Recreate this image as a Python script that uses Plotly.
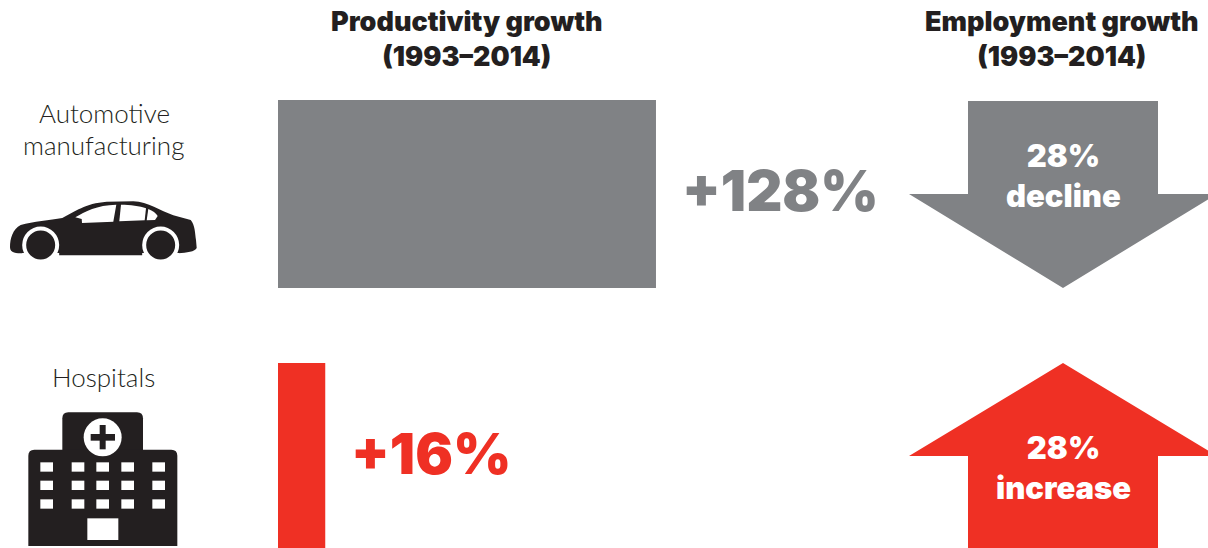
import plotly.graph_objects as go

# Chart data
industries = ["Automotive<br>manufacturing", "Hospitals"]
productivity_growth = [128, 16]
employment_growth = [-28, 28]
employment_words = ["decline", "increase"]
column_titles = ["Productivity growth<br>(1993–2014)", "Employment growth<br>(1993–2014)"]

GREY = "#808285"
RED = "#EF3024"
INK = "#231F20"
colors = [GREY, RED]

W, H = 1208, 548
HEAVY = "Inter"
LIGHT = "Lato"

fig = go.Figure()
fig.add_trace(go.Bar(
    y=[0, 1], x=productivity_growth, orientation="h", width=0.715,
    marker=dict(color=colors, line_width=0), hoverinfo="skip",
))
# Invisible trace keeps the pixel-scaled overlay axes alive for icons and arrows
fig.add_trace(go.Scatter(x=[0], y=[0], xaxis="x2", yaxis="y2", mode="none", hoverinfo="skip"))

shapes = []
annotations = []


def path_shape(d, color):
    shapes.append(dict(type="path", path=d, xref="x2", yref="y2", fillcolor=color,
                       line_width=0, layer="above"))


def poly(points):
    return "M " + " L ".join(f"{x:.1f},{y:.1f}" for x, y in points) + " Z"


def circle(cx, cy, r, color):
    shapes.append(dict(type="circle", xref="x2", yref="y2", x0=cx - r, x1=cx + r,
                       y0=cy - r, y1=cy + r, fillcolor=color, line_width=0, layer="above"))


def rect(x0, y0, x1, y1, color):
    shapes.append(dict(type="rect", xref="x2", yref="y2", x0=x0, x1=x1, y0=y0, y1=y1,
                       fillcolor=color, line_width=0, layer="above"))


# Employment arrows
path_shape(poly([(968, 101), (1158, 101), (1158, 194), (1217, 194), (1063, 288), (909, 194), (968, 194)]), GREY)
path_shape(poly([(1063, 363), (1217, 456), (1158, 456), (1158, 552), (968, 552), (968, 456), (909, 456)]), RED)


def car_pt(x, y):
    return x / 3, 90 + y / 3


def car_path(cmds):
    out = []
    for c in cmds:
        if isinstance(c, str):
            out.append(c)
        else:
            px, py = car_pt(*c)
            out.append(f"{px:.1f},{py:.1f}")
    return " ".join(out)


# Car body, wheels and windows
path_shape(car_path([
    "M", (30, 472), "C", (30, 445), (38, 418), (62, 405),
    "C", (100, 395), (150, 390), (187, 384),
    "C", (225, 365), (255, 340), (320, 335),
    "L", (400, 334), "C", (445, 336), (480, 362), (520, 376),
    "L", (572, 390), "C", (585, 405), (585, 430), (588, 450),
    "L", (590, 474), "C", (585, 485), (560, 488), (535, 490),
    "L", (430, 496), "L", (175, 496), "L", (68, 490),
    "C", (50, 490), (30, 490), (30, 472), "Z",
]), INK)
for cx in (122, 482):
    px, py = car_pt(cx, 465)
    circle(px, py, 18.5, "white")
    rect(px - 18.5, py + 8, px + 18.5, py + 20, "white")
    circle(px, py, 14.5, INK)
path_shape(car_path(["M", (226, 382), "C", (255, 365), (290, 345), (349, 344), "L", (340, 395), "L", (246, 399), "L", (245, 387), "Z"]), "white")
path_shape(car_path(["M", (363, 344), "C", (390, 344), (420, 348), (438, 355), "L", (434, 391), "L", (358, 394), "Z"]), "white")
path_shape(car_path(["M", (445, 357), "C", (458, 362), (468, 370), (473, 378), "L", (465, 390), "L", (440, 391), "Z"]), "white")


def hp(x, y):
    return x / 3, 360 + y / 3


def hosp_rect(x0, y0, x1, y1, color):
    a, b = hp(x0, y0)
    c, d = hp(x1, y1)
    rect(a, b, c, d, color)


def rounded_top(x0, y0, x1, y1, r):
    a, b = hp(x0, y0)
    c, d = hp(x1, y1)
    return (f"M {a},{d} L {a},{b + r} Q {a},{b} {a + r},{b} L {c - r},{b} "
            f"Q {c},{b} {c},{b + r} L {c},{d} Z")


# Hospital building, emblem and windows
path_shape(rounded_top(187, 157, 429, 280, 6), INK)
path_shape(rounded_top(85, 269, 532, 558, 6), INK)
ex, ey = hp(308, 232)
circle(ex, ey, 19, "white")
hosp_rect(299, 195, 317, 268, INK)
hosp_rect(272, 222, 345, 242, INK)
for x0 in (121, 215, 289, 364, 457):
    for y0 in (307, 362, 418):
        hosp_rect(x0, y0, x0 + 38, y0 + 28, "white")
hosp_rect(262, 475, 355, 540, "white")


def label(text, x, y, size, color, weight="normal", family=HEAVY):
    annotations.append(dict(text=text, x=x, y=y, xref="x2", yref="y2", showarrow=False,
                            xanchor="center", yanchor="middle",
                            font=dict(family=family, size=size, color=color, weight=weight)))


# Column headings
for title, cx in zip(column_titles, (467, 1062)):
    label(title, cx, 39, 27, INK, 900)

# Row labels
first, second = industries[0].split("<br>")
label(first, 104, 113, 26, INK, 300, LIGHT)
label(second, 103, 145, 26, INK, 300, LIGHT)
label(industries[1], 103, 377, 26, INK, 300, LIGHT)

# Value labels sit just past the end of each bar
for i, v in enumerate(productivity_growth):
    annotations.append(dict(text=f"+{v}%", x=v, y=i, xref="x", yref="y", showarrow=False,
                            xanchor="left", yanchor="middle", xshift=24, yshift=3,
                            font=dict(family=HEAVY, size=56, color=colors[i], weight=900)))

# Arrow captions
for v, word, cy in zip(employment_growth, employment_words, (175, 467)):
    label(f"{abs(v)}%<br>{word}", 1063, cy, 31, "white", 900)

fig.update_layout(
    width=W, height=H, margin=dict(l=0, r=0, t=0, b=0, pad=0),
    paper_bgcolor="white", plot_bgcolor="white", showlegend=False,
    xaxis=dict(range=[-278 / 2.953, (W - 278) / 2.953], visible=False, fixedrange=True),
    yaxis=dict(range=[(H - 194) / 263, -194 / 263], visible=False, fixedrange=True),
    xaxis2=dict(range=[0, W], visible=False, overlaying="x", fixedrange=True),
    yaxis2=dict(range=[H, 0], visible=False, overlaying="y", fixedrange=True),
    shapes=shapes, annotations=annotations,
)

fig.write_html("out.html", config={"displayModeBar": False})
